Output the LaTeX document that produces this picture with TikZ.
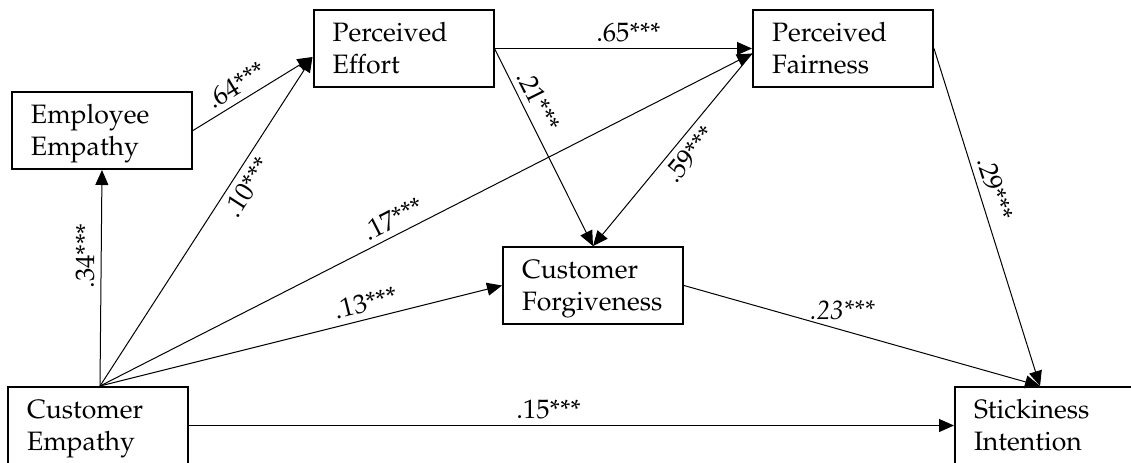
\documentclass[tikz,border=0pt]{standalone}
\usepackage[T1]{fontenc}
\usepackage{mathpazo}
\usetikzlibrary{arrows.meta,calc}
\newcommand{\bxt}[2]{\rule{0pt}{12.6pt}#1\\#2\rule[-3.25pt]{0pt}{0pt}}
\begin{document}
\begin{tikzpicture}[x=0.5pt,y=-0.5pt,
  box/.style={draw, line width=1pt, minimum width=90pt, minimum height=38.5pt,
    text width=71pt, align=left, inner sep=0pt, font=\fontsize{13.3}{16}\selectfont},
  conn/.style={line width=0.5pt, -{Triangle[length=7.5pt,width=6.5pt]}},
  lab/.style={font=\fontsize{13.3}{16}\selectfont, inner sep=3pt}]
\fill[white] (0,0) rectangle (1131,462);
\useasboundingbox (0,0) rectangle (1131,462);
\clip (0,0) rectangle (1131,462);

\node[box] (EE) at (102,130.5) {\bxt{Employee}{Empathy}};
\node[box] (PE) at (403.5,48.5) {\bxt{Perceived}{Effort}};
\node[box] (PF) at (843,48.5) {\bxt{Perceived}{Fairness}};
\node[box] (CF) at (593,285.5) {\bxt{Customer}{Forgiveness}};
\node[box] (CE) at (98,425.5) {\bxt{Customer}{Empathy}};
\node[box] (SI) at (1045,425.5) {\bxt{Stickiness}{Intention}};

\coordinate (ceo) at ($(CE.north)+(2,0)$);
\coordinate (pein) at ($(PE.west)+(0,8.5)$);
\coordinate (pfin) at ($(PF.west)+(0,5)$);
\coordinate (siin) at ($(SI.north)+(-5,0)$);

\draw[conn] (ceo) -- node[lab,sloped,above,pos=.6]{.34***} (EE.south);
\draw[conn] (EE.east) -- node[lab,sloped,above,pos=.43]{.64***} (pein);
\draw[conn] (ceo) -- node[lab,sloped,below,pos=.63]{.10***} (pein);
\draw[conn] (PE.east) -- node[lab,above,pos=.52]{.65***} (PF.west);
\draw[conn] (ceo) -- node[lab,sloped,above,pos=.46]{.17***} (pfin);
\draw[conn] (PE.east) -- node[lab,sloped,above,pos=.3]{.21***} (CF.north);
\draw[conn] (pfin) -- node[lab,sloped,below,pos=.47]{.59***} (CF.north);
\draw[conn] (ceo) -- node[lab,sloped,above,pos=.67]{.13***} (CF.west);
\draw[conn] (CF.east) -- node[lab,above=2pt,pos=.445]{\textit{.23***}} (siin);
\draw[conn] (PF.east) -- node[lab,sloped,above,pos=.43]{.29***} (siin);
\draw[conn] (CE.east) -- node[lab,above,pos=.47]{.15***} (SI.west);
\end{tikzpicture}
\end{document}
